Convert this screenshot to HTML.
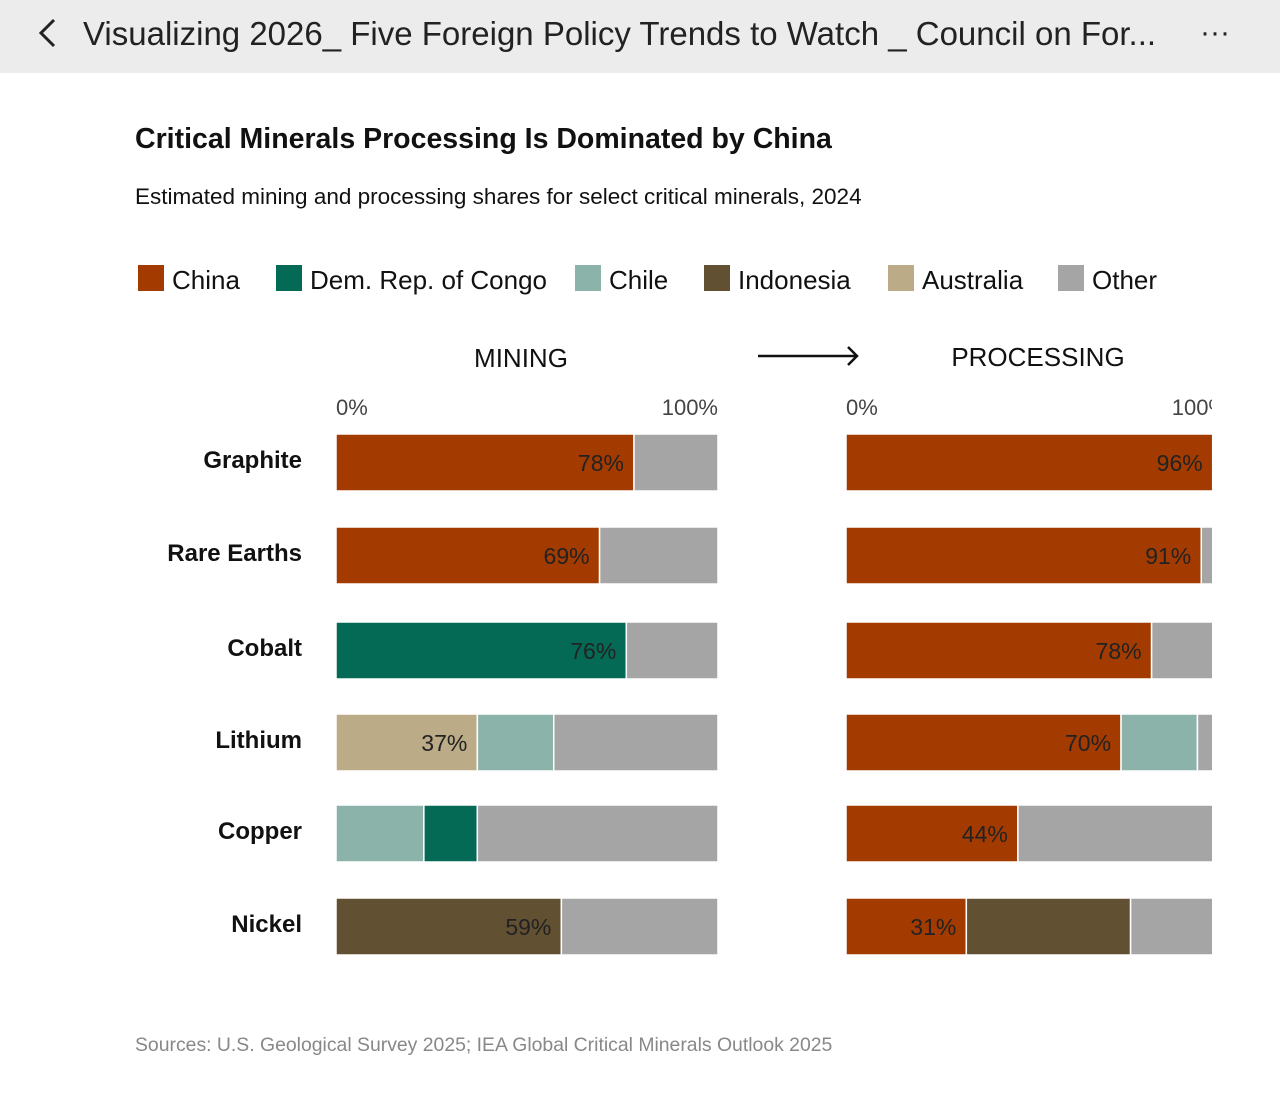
<!DOCTYPE html>
<html><head><meta charset="utf-8"><style>
body{margin:0;width:1280px;height:1105px;background:#fff;font-family:"Liberation Sans",sans-serif;overflow:hidden}
</style></head><body>
<svg width="1280" height="1105" xmlns="http://www.w3.org/2000/svg">
<rect x="0" y="0" width="1280" height="73" fill="#ececec"/>
<path d="M54 20 L41 33 L54 46" stroke="#222" stroke-width="3" fill="none"/>
<text x="83" y="45" font-size="33" fill="#222">Visualizing 2026_ Five Foreign Policy Trends to Watch _ Council on For...</text>
<text x="1200" y="42" font-size="30" fill="#222">···</text>
<text x="135" y="148" font-size="28.5" font-weight="bold" fill="#111">Critical Minerals Processing Is Dominated by China</text>
<text x="135" y="204" font-size="22.5" fill="#111">Estimated mining and processing shares for select critical minerals, 2024</text>
<g id="legend"></g>
<text x="521" y="367" font-size="26" text-anchor="middle" fill="#111">MINING</text>
<path d="M758 356 H857 M848 347 L857 356 L848 365" stroke="#111" stroke-width="2.5" fill="none"/>
<text x="1038" y="366" font-size="26" text-anchor="middle" fill="#111">PROCESSING</text>
<defs><clipPath id="clipP"><rect x="830" y="380" width="382" height="600"/></clipPath></defs>
<g id="mining"></g>
<g id="proc" clip-path="url(#clipP)"></g>
<g id="rows"></g>
<text x="135" y="1051" font-size="19.4" fill="#888">Sources:  U.S. Geological Survey 2025; IEA Global Critical Minerals Outlook 2025</text>
</svg>
<script>
const minerals=["Graphite","Rare Earths","Cobalt","Lithium","Copper","Nickel"];
const countries=["China","Dem. Rep. of Congo","Chile","Indonesia","Australia","Other"];
const colors={"China":"#a33b00","Dem. Rep. of Congo":"#046a55","Chile":"#8bb3a9","Indonesia":"#615032","Australia":"#bcab87","Other":"#a5a5a5"};
const miningSegs=[
 [["China",78,1],["Other",22,0]],
 [["China",69,1],["Other",31,0]],
 [["Dem. Rep. of Congo",76,1],["Other",24,0]],
 [["Australia",37,1],["Chile",20,0],["Other",43,0]],
 [["Chile",23,0],["Dem. Rep. of Congo",14,0],["Other",63,0]],
 [["Indonesia",59,1],["Other",41,0]]];
const procSegs=[
 [["China",96,1],["Other",4,0]],
 [["China",93,1],["Other",7,0]],
 [["China",80,1],["Other",20,0]],
 [["China",72,1],["Chile",20,0],["Other",8,0]],
 [["China",45,1],["Other",55,0]],
 [["China",31.5,1],["Indonesia",43,0],["Other",25.5,0]]];
const procLabels=["96%","91%","78%","70%","44%","31%"];
const ticks=["0%","100%"];
const NS="http://www.w3.org/2000/svg";
function mk(t,a,p){const e=document.createElementNS(NS,t);for(const k in a)e.setAttribute(k,a[k]);p.appendChild(e);return e;}
const W=382;
const yTop=i=>[434,527,622,714,805,898][i];
function xs(x0,v){return x0+v/100*W;}
function drawPanel(g,x0,segs,labels){
 ticks.forEach((t,i)=>{const e=mk("text",{x:xs(x0,i*100),y:415,"font-size":22,fill:"#444","text-anchor":i?"end":"start"},g);e.textContent=t;
  
  });
 segs.forEach((s,i)=>{let acc=0;s.forEach(([c,v,l])=>{
  const r=mk("rect",{x:xs(x0,acc),y:yTop(i),width:v/100*W,height:57,fill:colors[c],stroke:"#fff","stroke-width":1.5},g);
  
  
  acc+=v;
  if(l){const tx=mk("text",{x:xs(x0,acc)-10,y:yTop(i)+37,"font-size":23,fill:"#222","text-anchor":"end"},g);
   tx.textContent=labels?labels[i]:v+"%";
   
   }
 });});
}
drawPanel(document.getElementById("mining"),336,miningSegs,null);
drawPanel(document.getElementById("proc"),846,procSegs,procLabels);
const rows=document.getElementById("rows");
minerals.forEach((m,i)=>{const t=mk("text",{x:302,y:yTop(i)+34,"font-size":24,"font-weight":"bold",fill:"#111","text-anchor":"end"},rows);t.textContent=m;
 
 });
const lg=document.getElementById("legend");
const lx=[138,276,575,704,888,1058];
countries.forEach((c,i)=>{const r=mk("rect",{x:lx[i],y:265,width:26,height:26,fill:colors[c]},lg);
 
 
 const t=mk("text",{x:lx[i]+34,y:289,"font-size":26,fill:"#111"},lg);t.textContent=c;
 
 });
</script>
</body></html>
